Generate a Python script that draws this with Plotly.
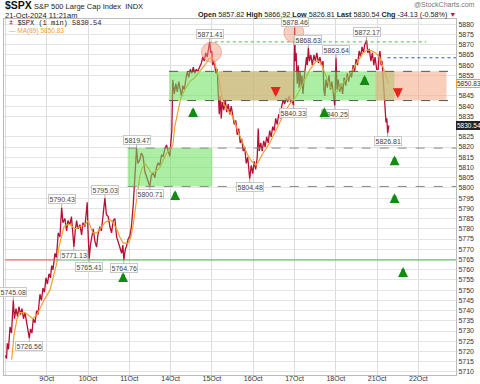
import plotly.graph_objects as go

# ---------------- data ----------------
# time axis: trading sessions since 8-Oct open (1.0 = one session, weekends removed)
day_labels = ["8Oct", "9Oct", "10Oct", "11Oct", "14Oct", "15Oct", "16Oct", "17Oct", "18Oct", "21Oct", "22Oct"]
day_pos = list(range(len(day_labels)))

price_t = [0.002, 0.027, 0.046, 0.075, 0.111, 0.148, 0.191, 0.220, 0.256, 0.293, 0.329, 0.365, 0.401, 0.438, 0.474,
           0.515, 0.547, 0.578, 0.607, 0.643, 0.675, 0.716, 0.757, 0.788, 0.837, 0.873, 0.909, 0.946, 0.982,
           1.018, 1.054, 1.091, 1.120, 1.151, 1.200, 1.236, 1.279, 1.320, 1.362, 1.393, 1.441, 1.482, 1.514, 1.562,
           1.599, 1.635, 1.659, 1.690, 1.724, 1.756, 1.804, 1.845, 1.877, 1.925, 1.956, 1.981, 1.998,
           2.029, 2.058, 2.094, 2.126, 2.167, 2.208, 2.239, 2.288, 2.324, 2.360, 2.409, 2.445, 2.489, 2.530, 2.571,
           2.609, 2.651, 2.692, 2.730, 2.771, 2.813, 2.844, 2.868, 2.904, 2.933, 2.972,
           3.013, 3.050, 3.093, 3.134, 3.175, 3.207, 3.255, 3.291, 3.335, 3.376, 3.417, 3.461, 3.497, 3.533, 3.577,
           3.618, 3.659, 3.698, 3.739, 3.780, 3.819, 3.860, 3.901, 3.940, 3.981,
           4.005, 4.029, 4.053, 4.090, 4.126, 4.162, 4.198, 4.235, 4.264, 4.295, 4.331, 4.368, 4.404, 4.440, 4.476,
           4.513, 4.549, 4.585, 4.622, 4.658, 4.706, 4.743, 4.779, 4.815, 4.851, 4.888, 4.924, 4.948, 4.972, 4.996,
           5.021, 5.057, 5.093, 5.129, 5.154, 5.178, 5.202, 5.226, 5.250, 5.287, 5.323, 5.359, 5.395, 5.432, 5.468,
           5.504, 5.541, 5.577, 5.613, 5.649, 5.686, 5.722, 5.758, 5.794, 5.831, 5.867, 5.891, 5.915, 5.952, 5.988,
           6.024, 6.060, 6.097, 6.121, 6.145, 6.181, 6.218, 6.254, 6.290, 6.326, 6.363, 6.399, 6.435, 6.472, 6.508,
           6.544, 6.580, 6.617, 6.653, 6.689, 6.726, 6.762, 6.798, 6.834, 6.871, 6.907, 6.943, 6.975,
           7.003, 7.020, 7.040, 7.065, 7.090, 7.110, 7.135, 7.160, 7.180, 7.205, 7.230, 7.265, 7.290, 7.310, 7.335,
           7.360, 7.395, 7.430, 7.470, 7.505, 7.540, 7.580, 7.615, 7.650, 7.690, 7.710, 7.735, 7.760, 7.795, 7.835,
           7.870, 7.905, 7.940, 7.960, 7.975,
           8.005, 8.030, 8.060, 8.095, 8.130, 8.165, 8.200, 8.240, 8.275, 8.310, 8.345, 8.380, 8.420, 8.455, 8.490,
           8.525, 8.565, 8.600, 8.635, 8.670, 8.700, 8.745, 8.775, 8.810, 8.850, 8.885, 8.920, 8.950, 8.990,
           9.025, 9.050, 9.070, 9.095, 9.120, 9.145, 9.170, 9.190, 9.215, 9.235, 9.255, 9.285]
price_v = [5718, 5716.5, 5724, 5721, 5732, 5729, 5745.08, 5736, 5741, 5737, 5742, 5738, 5741, 5736, 5739,
           5734, 5731, 5726.56, 5731, 5729, 5736, 5734, 5740, 5738, 5748, 5745, 5751, 5749, 5756,
           5753, 5758, 5756, 5762, 5760, 5768, 5766, 5778, 5776, 5790.43, 5783, 5785, 5779, 5784, 5782,
           5786, 5777, 5771.13, 5779, 5784, 5780, 5782, 5777, 5783, 5781, 5788, 5793, 5780,
           5765.41, 5772, 5776, 5780, 5774, 5771, 5777, 5781, 5779, 5787, 5795.03, 5787, 5786, 5781, 5778,
           5784, 5785, 5776, 5774, 5771, 5768, 5772, 5764.76, 5770, 5771.5, 5775,
           5776.4, 5781, 5791, 5807, 5819.47, 5812, 5813.8, 5817, 5815.4, 5808, 5805.6, 5803, 5800.71, 5806, 5807.4,
           5805, 5810, 5812.3, 5811, 5816, 5815.4, 5819, 5821, 5818, 5815.4,
           5822, 5828, 5852.8, 5846, 5851, 5847, 5852, 5848, 5844.7, 5850, 5848, 5853, 5857, 5854, 5858,
           5856, 5859, 5856, 5858, 5857, 5859, 5861, 5864, 5862, 5866, 5864, 5869, 5871.41, 5866, 5867,
           5860, 5862, 5856, 5858, 5846, 5836, 5845, 5834, 5842, 5838, 5843, 5837, 5841, 5836, 5840,
           5835, 5831, 5833, 5826, 5829, 5822, 5824, 5818, 5820, 5812, 5815, 5808, 5804.48, 5811, 5807,
           5813, 5809, 5815, 5829, 5818, 5822, 5818, 5823, 5820, 5825, 5822, 5828, 5825, 5830, 5828,
           5834, 5831, 5836, 5834, 5840, 5843, 5841, 5844, 5842, 5845, 5842, 5843, 5840.33,
           5878.46, 5862, 5866, 5851, 5860, 5849, 5857, 5850, 5855, 5846, 5853, 5858, 5864, 5860, 5868.63,
           5862, 5865, 5860, 5865, 5862, 5866, 5861, 5864, 5860, 5862, 5848, 5845, 5853, 5849, 5855,
           5848, 5852, 5845, 5842, 5840.25,
           5863.64, 5848, 5853, 5847, 5851, 5846, 5854, 5850, 5856, 5852, 5857, 5854, 5860, 5857, 5863,
           5860, 5867, 5864, 5869, 5866, 5870, 5872.17, 5866, 5868, 5862, 5866, 5860, 5864, 5858,
           5858, 5865, 5866.92, 5860, 5862, 5854, 5845, 5838, 5832, 5834, 5826.81, 5830.54]

ma_t = [0.152, 0.208, 0.281, 0.353, 0.474, 0.595, 0.667, 0.764, 0.837, 0.958, 1.079, 1.151, 1.241, 1.296, 1.362,
        1.417, 1.482, 1.562, 1.683, 1.804, 1.925, 2.005, 2.070, 2.118, 2.215, 2.288, 2.409, 2.530, 2.602, 2.692,
        2.771, 2.851, 2.972, 3.038, 3.086, 3.134, 3.175, 3.219, 3.255, 3.316, 3.376, 3.449, 3.538, 3.642, 3.739,
        3.811, 3.901, 3.981, 4.053, 4.101, 4.174, 4.247, 4.343, 4.464, 4.585, 4.706, 4.827, 4.924, 4.996, 5.069,
        5.141, 5.214, 5.287, 5.383, 5.504, 5.625, 5.746, 5.867, 5.964, 6.060, 6.133, 6.205, 6.302, 6.399, 6.520,
        6.641, 6.762, 6.883, 6.979, 7.050, 7.165, 7.269, 7.366, 7.528, 7.608, 7.681, 7.778, 7.850, 7.947, 8.020,
        8.165, 8.286, 8.407, 8.528, 8.649, 8.770, 8.866, 8.963, 9.059, 9.139, 9.204, 9.285]
ma_v = [5716, 5728, 5736, 5739, 5739, 5737, 5736, 5738, 5741, 5746, 5750, 5756, 5763, 5771, 5777,
        5781, 5782, 5782, 5780, 5781, 5782, 5784, 5781, 5778, 5778, 5779.7, 5783, 5784.5, 5783, 5780,
        5776, 5773, 5773, 5776, 5781, 5788, 5794, 5800, 5805.6, 5810, 5812, 5810, 5807, 5808, 5810,
        5813, 5817, 5819, 5821, 5830, 5838, 5844, 5848, 5852, 5854, 5857, 5860, 5863, 5864, 5861,
        5856, 5848, 5841, 5838, 5835, 5828, 5822, 5816, 5813, 5811, 5813, 5816, 5819, 5822, 5827,
        5832, 5837, 5841, 5843, 5845, 5849.6, 5854, 5857.7, 5862, 5862, 5859, 5854, 5850, 5847, 5847,
        5851, 5854, 5857.7, 5862, 5865.8, 5867.5, 5867, 5866, 5864, 5859.3, 5855, 5850.83]

# labelled highs / lows
pivot_t = [0.191, 0.578, 1.362, 1.659, 2.029, 2.409, 2.868, 3.175, 3.497, 4.948, 5.915, 6.975, 7.003, 7.335,
           8.005, 7.975, 8.745, 9.255]
pivot_v = [5745.08, 5726.56, 5790.43, 5771.13, 5765.41, 5795.03, 5764.76, 5819.47, 5800.71, 5871.41, 5804.48,
           5840.33, 5878.46, 5868.63, 5863.64, 5840.25, 5872.17, 5826.81]
pivot_high = [True, False, True, False, False, True, False, True, False, True, False,
              False, True, True, True, False, True, False]

# buy / sell signals
buy_t = [2.851, 4.109, 4.544, 7.722, 8.697, 9.422, 9.422, 9.628]
buy_v = [5758.8, 5798.9, 5839.5, 5839.5, 5855.2, 5815.9, 5797.4, 5761.3]
sell_t = [6.544, 9.502]
sell_v = [5844.5, 5843.9]

# zones (t0, t1, low, high)
green_zones = [(2.96, 5.01, 5800.71, 5819.47), (3.963, 9.42, 5842.7, 5857.0)]
red_zones = [(5.166, 6.962, 5842.7, 5857.0), (8.962, 10.679, 5842.7, 5857.0)]

# highlighted tops (circles)
top_t = [4.989, 6.984]
top_v = [5866.4, 5876.0]

support_level = 5764.76
support_turn_t = 1.2
blue_level = 5863.64
blue_start_t = 9.25
green_level = 5871.41
green_level_t = (5.07, 10.19)

last_price = 5830.54
last_ma = 5850.83

# ---------------- figure ----------------
FONT = "Liberation Sans"
X_MAX = 10.91
fig = go.Figure()

fig.add_trace(go.Scatter(x=price_t, y=price_v, mode="lines",
                         line=dict(color="#b51035", width=1.3), hoverinfo="skip"))
fig.add_trace(go.Scatter(x=ma_t, y=ma_v, mode="lines",
                         line=dict(color="#f0a030", width=1.2), hoverinfo="skip"))
fig.add_trace(go.Scatter(x=top_t, y=top_v, mode="markers",
                         marker=dict(size=20, color="rgba(240,150,120,0.45)",
                                     line=dict(color="rgba(225,120,90,0.5)", width=1)),
                         hoverinfo="skip"))

shapes = []
for (t0, t1, lo, hi) in green_zones:
    shapes.append(dict(type="rect", xref="x", yref="y", x0=t0, x1=t1, y0=lo, y1=hi,
                       fillcolor="#66e05a", opacity=0.55, line=dict(width=0), layer="above"))
for (t0, t1, lo, hi) in red_zones:
    shapes.append(dict(type="rect", xref="x", yref="y", x0=t0, x1=t1, y0=lo, y1=hi,
                       fillcolor="#f4a582", opacity=0.55, line=dict(width=0), layer="above"))

# dashed zone edges extending to the right
for (t0, t1, lo, hi) in green_zones:
    col = "#555" if hi > 5840 else "#888"
    for lvl in (lo, hi):
        shapes.append(dict(type="line", xref="x", yref="y", x0=t0, x1=X_MAX, y0=lvl, y1=lvl,
                           line=dict(color=col, width=1, dash="dash"), layer="above"))

shapes.append(dict(type="line", xref="x", yref="y", x0=green_level_t[0], x1=green_level_t[1],
                   y0=green_level, y1=green_level, line=dict(color="#4cbb4c", width=1, dash="dot")))
shapes.append(dict(type="line", xref="x", yref="y", x0=blue_start_t, x1=X_MAX,
                   y0=blue_level, y1=blue_level, line=dict(color="#3050e0", width=1, dash="dot")))
shapes.append(dict(type="line", xref="x", yref="y", x0=0, x1=support_turn_t,
                   y0=support_level, y1=support_level, line=dict(color="#e05050", width=1)))
shapes.append(dict(type="line", xref="x", yref="y", x0=support_turn_t, x1=X_MAX,
                   y0=support_level, y1=support_level, line=dict(color="#50b050", width=1)))

ann = []
for t, v, hi in zip(pivot_t, pivot_v, pivot_high):
    gap = 8
    if v > 5875:
        gap = 5  # keep the top-most tag inside the plot frame
    ann.append(dict(x=t, y=v, xref="x", yref="y", text=f"{v:.2f}", showarrow=True,
                    arrowhead=0, arrowwidth=0.8, arrowcolor="#999", ax=0, ay=(-gap if hi else gap),
                    font=dict(family=FONT, size=7, color="#444"), bgcolor="rgba(255,255,255,0.85)",
                    bordercolor="#c8c8c8", borderwidth=1, borderpad=0.5))

for t, v in zip(buy_t, buy_v):
    ann.append(dict(x=t, y=v, xref="x", yref="y", text="", showarrow=True, arrowhead=2,
                    arrowsize=0.55, arrowwidth=3.6, arrowcolor="#138a13", ax=0, ay=11, standoff=0))
for t, v in zip(sell_t, sell_v):
    ann.append(dict(x=t, y=v, xref="x", yref="y", text="", showarrow=True, arrowhead=2,
                    arrowsize=0.55, arrowwidth=3.6, arrowcolor="#e82418", ax=0, ay=-11, standoff=0))

# right-edge value tags
ann.append(dict(x=1.0, y=last_ma, xref="paper", yref="y", xanchor="left", yanchor="middle",
                text=f"{last_ma:.2f}", showarrow=False, font=dict(family=FONT, size=6.5, color="#333"),
                bgcolor="white", bordercolor="#f0a030", borderwidth=1, borderpad=0))
ann.append(dict(x=1.0, y=last_price, xref="paper", yref="y", xanchor="left", yanchor="middle",
                text=f"{last_price:.2f}", showarrow=False, font=dict(family=FONT, size=6.5, color="white"),
                bgcolor="#222", bordercolor="#222", borderwidth=1, borderpad=0))

# header
ann.append(dict(x=-0.002, y=1.039, xref="paper", yref="paper", xanchor="left", yanchor="middle",
                text="<b>$SPX</b>", showarrow=False, font=dict(family=FONT, size=10.5, color="#111")))
ann.append(dict(x=0.061, y=1.036, xref="paper", yref="paper", xanchor="left", yanchor="middle",
                text="S&amp;P 500 Large Cap Index  INDX", showarrow=False,
                font=dict(family=FONT, size=7.5, color="#222")))
ann.append(dict(x=-0.002, y=1.009, xref="paper", yref="paper", xanchor="left", yanchor="middle",
                text="21-Oct-2024 11:21am", showarrow=False, font=dict(family=FONT, size=7.5, color="#222")))
ann.append(dict(x=1.046, y=1.041, xref="paper", yref="paper", xanchor="right", yanchor="middle",
                text="@StockCharts.com", showarrow=False, font=dict(family=FONT, size=7, color="#777")))
ann.append(dict(x=1.004, y=1.0115, xref="paper", yref="paper", xanchor="right", yanchor="middle",
                text="<b>Open</b> 5857.82 <b>High</b> 5866.92 <b>Low</b> 5826.81 <b>Last</b> 5830.54 "
                     "<b>Chg</b> -34.13 (-0.58%) <span style='color:#d01040'>▼</span>",
                showarrow=False, font=dict(family=FONT, size=7.2, color="#222")))

# in-chart legend
ann.append(dict(x=0.006, y=0.988, xref="paper", yref="paper", xanchor="left", yanchor="middle",
                text=f"<span style='color:#c2123a'>ǂ</span> $SPX (1 min) {last_price:.2f}", showarrow=False,
                font=dict(family="Liberation Mono", size=7, color="#222")))
ann.append(dict(x=0.006, y=0.966, xref="paper", yref="paper", xanchor="left", yanchor="middle",
                text=f"— MA(89) {last_ma:.2f}", showarrow=False,
                font=dict(family=FONT, size=6.5, color="#f0a030")))

# y tick labels every 5 points, leaving room for the two value tags
y_ticks = [v for v in range(5710, 5881, 5) if v not in (5830, 5850)]

fig.update_layout(
    width=480, height=384,
    margin=dict(l=4, r=24, t=19, b=9, autoexpand=False),
    paper_bgcolor="white", plot_bgcolor="white",
    showlegend=False,
    shapes=shapes, annotations=ann,
    font=dict(family=FONT, size=7, color="#333"),
    xaxis=dict(range=[-0.034, X_MAX], tickmode="array", tickvals=day_pos, ticktext=day_labels,
               showgrid=True, gridcolor="#dcdcdc", gridwidth=1, zeroline=False, automargin=False,
               showline=True, linecolor="#bbb", mirror=True, ticks="", ticklen=0, ticklabelstandoff=-3,
               tickfont=dict(family=FONT, size=7, color="#333")),
    yaxis=dict(range=[5708.5, 5882.6], side="right", tickmode="array", tickvals=y_ticks,
               showgrid=True, gridcolor="#e4e4e4", gridwidth=1, zeroline=False, automargin=False,
               showline=True, linecolor="#bbb", mirror=True, ticks="", ticklen=0,
               tickfont=dict(family=FONT, size=7, color="#333")),
)

fig.write_html("out.html", config={"displayModeBar": False},
               post_script="document.body.style.margin='0px';document.body.style.overflow='hidden';")
